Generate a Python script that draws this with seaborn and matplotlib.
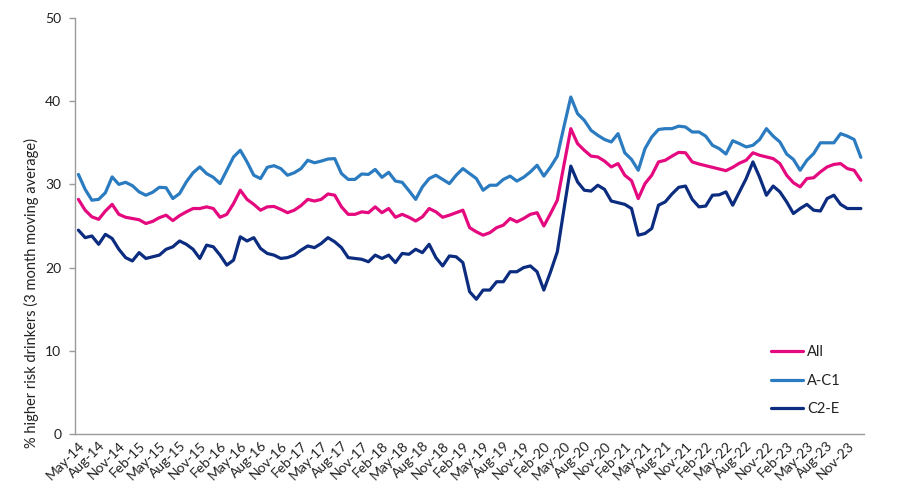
import matplotlib
matplotlib.use("Agg")
import matplotlib.pyplot as plt
import seaborn as sns
import pandas as pd
import numpy as np

# ---------------- data ----------------
months = pd.date_range("2014-05-01", periods=117, freq="MS").strftime("%b-%y").tolist()

all_adults = [
    28.2, 26.9, 26.1, 25.8, 26.8, 27.6, 26.4, 26.05, 25.9, 25.75, 25.3, 25.55, 26.0, 26.3, 25.65, 26.25, 26.7, 27.1, 27.1,
    27.3, 27.1, 26.05, 26.4, 27.7, 29.3, 28.2, 27.6, 26.9, 27.3, 27.35, 27.0, 26.6, 26.9, 27.45, 28.2, 28.0, 28.2, 28.85, 28.7,
    27.3, 26.4, 26.4, 26.7, 26.6, 27.3, 26.6, 27.1, 26.05, 26.4, 26.05, 25.6, 26.1, 27.1, 26.7, 26.05, 26.3, 26.6, 26.9, 24.8,
    24.3, 23.9, 24.2, 24.8, 25.1, 25.9, 25.5, 25.9, 26.4, 26.6, 25.0, 26.5, 28.1, 32.4, 36.7, 34.9, 34.1, 33.4, 33.3, 32.8,
    32.1, 32.5, 31.1, 30.45, 28.3, 30.1, 31.1, 32.7, 32.9, 33.4, 33.85, 33.8, 32.7, 32.45, 32.25, 32.05, 31.85, 31.65, 32.05, 32.55,
    32.9, 33.8, 33.5, 33.3, 33.1, 32.5, 31.1, 30.2, 29.7, 30.7, 30.8, 31.5, 32.1, 32.4, 32.5, 31.9, 31.7, 30.5,
]

a_c1 = [
    31.2, 29.4, 28.1, 28.2, 29.0, 30.9, 30.0, 30.25, 29.85, 29.1, 28.7, 29.05, 29.65, 29.6, 28.3, 28.9, 30.3, 31.4, 32.1,
    31.3, 30.85, 30.1, 31.7, 33.3, 34.1, 32.7, 31.1, 30.7, 32.05, 32.25, 31.9, 31.1, 31.4, 31.9, 32.9, 32.6, 32.8, 33.05, 33.1,
    31.3, 30.6, 30.6, 31.25, 31.2, 31.8, 30.85, 31.45, 30.4, 30.25, 29.25, 28.2, 29.7, 30.7, 31.1, 30.6, 30.1, 31.1, 31.9, 31.3,
    30.7, 29.3, 29.9, 29.9, 30.6, 31.0, 30.4, 30.85, 31.5, 32.3, 31.0, 32.1, 33.4, 37.0, 40.5, 38.5, 37.7, 36.5, 35.9, 35.4,
    35.1, 36.1, 33.8, 33.0, 31.7, 34.3, 35.7, 36.6, 36.7, 36.7, 37.0, 36.9, 36.3, 36.3, 35.8, 34.7, 34.3, 33.65, 35.25, 34.9,
    34.5, 34.7, 35.4, 36.7, 35.8, 35.1, 33.65, 33.0, 31.7, 32.9, 33.7, 35.0, 35.0, 35.0, 36.1, 35.8, 35.4, 33.25,
]

c2_e = [
    24.5, 23.6, 23.8, 22.8, 24.0, 23.5, 22.2, 21.2, 20.8, 21.8, 21.1, 21.3, 21.5, 22.2, 22.5, 23.2, 22.8, 22.2, 21.1,
    22.7, 22.5, 21.5, 20.3, 20.9, 23.7, 23.2, 23.6, 22.3, 21.7, 21.5, 21.1, 21.2, 21.5, 22.1, 22.6, 22.4, 22.9, 23.6, 23.1,
    22.4, 21.2, 21.1, 21.0, 20.7, 21.5, 21.1, 21.5, 20.6, 21.7, 21.6, 22.2, 21.8, 22.8, 21.2, 20.2, 21.4, 21.3, 20.6, 17.1,
    16.2, 17.3, 17.3, 18.3, 18.3, 19.5, 19.5, 20.0, 20.2, 19.5, 17.3, 19.5, 21.9, 27.1, 32.2, 30.3, 29.3, 29.2, 29.9, 29.4,
    28.0, 27.8, 27.6, 27.1, 23.9, 24.1, 24.7, 27.5, 27.9, 28.85, 29.65, 29.8, 28.2, 27.3, 27.4, 28.7, 28.75, 29.1, 27.5, 29.1,
    30.7, 32.7, 30.85, 28.7, 29.8, 29.1, 27.9, 26.5, 27.1, 27.6, 26.9, 26.8, 28.3, 28.7, 27.6, 27.1, 27.1, 27.1,
]

series_names = ["All", "A-C1", "C2-E"]
series_colors = ["#E5097F", "#2B7BC0", "#0C2C80"]

tick_labels = [
    "May-14", "Aug-14", "Nov-14", "Feb-15", "May-15", "Aug-15", "Nov-15", "Feb-16", "May-16", "Aug-16",
    "Nov-16", "Feb-17", "May-17", "Aug-17", "Nov-17", "Feb-18", "May-18", "Aug-18", "Nov-18", "Feb-19",
    "May-19", "Aug-19", "Nov-19", "Feb-20", "May-20", "Aug-20", "Nov-20", "Feb-21", "May-21", "Aug-21",
    "Nov-21", "Feb-22", "May-22", "Aug-22", "Nov-22", "Feb-23", "May-23", "Aug-23", "Nov-23",
]
y_ticks = [0, 10, 20, 30, 40, 50]
y_label = "% higher risk drinkers (3 month moving average)"

# ---------------- frame ----------------
n = len(months)
df = pd.DataFrame({
    "idx": list(range(n)) * 3,
    "month": months * 3,
    "value": all_adults + a_c1 + c2_e,
    "series": sum([[s] * n for s in series_names], []),
})

sns.set_theme(style="white")
plt.rcParams["font.family"] = ["Lato", "DejaVu Sans"]

fig = plt.figure(figsize=(9.04, 5.0), dpi=100)
ax = fig.add_axes([0.083, 0.132, 0.873, 0.832])

sns.lineplot(data=df, x="idx", y="value", hue="series", hue_order=series_names,
             palette=dict(zip(series_names, series_colors)), linewidth=2.3, ax=ax,
             estimator=None, sort=False)

ax.set_xlim(-0.5, n - 0.5)
ax.set_ylim(0, 50)
ax.set_yticks(y_ticks)
ax.set_yticklabels([str(v) for v in y_ticks], fontsize=10, color="#222222")

tick_pos = [months.index(t) for t in tick_labels]
ax.set_xticks(tick_pos)
ax.set_xticklabels(tick_labels, rotation=45, ha="right", rotation_mode="anchor",
                   fontsize=10, color="#222222")

ax.set_xlabel("")
ax.set_ylabel(y_label, fontsize=10.5, color="#222222")
ax.yaxis.set_label_coords(-0.046, 0.34)

for s in ["top", "right"]:
    ax.spines[s].set_visible(False)
for s in ["left", "bottom"]:
    ax.spines[s].set_color("#9A9A9A")
    ax.spines[s].set_linewidth(1.0)

ax.tick_params(axis="y", which="major", left=True, length=4, width=1, color="#9A9A9A", pad=6)
ax.tick_params(axis="x", which="major", bottom=False, length=0, pad=4)

handles, labels = ax.get_legend_handles_labels()
leg = ax.legend(handles, labels, loc="upper left", bbox_to_anchor=(0.865, 0.245),
                frameon=False, fontsize=10.5, handlelength=2.2, handletextpad=0.3,
                labelspacing=1.0)
for t in leg.get_texts():
    t.set_color("#222222")

fig.savefig("out.png", dpi=100)
